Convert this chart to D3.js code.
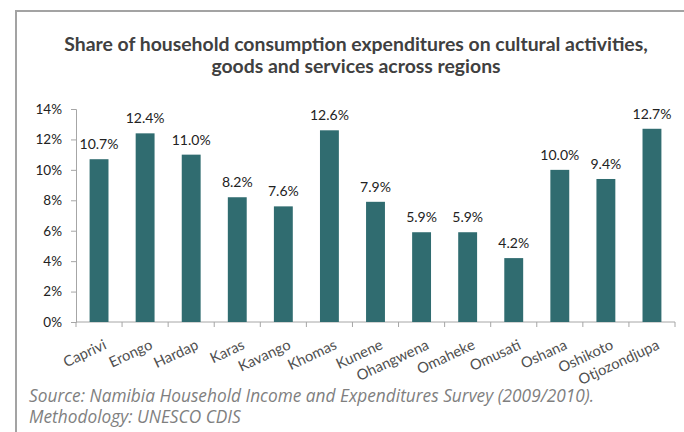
<!DOCTYPE html>
<html>
<head>
<meta charset="utf-8">
<script src="https://cdn.jsdelivr.net/npm/d3@7"></script>
<style>
  body { margin: 0; background: #fff; }
</style>
</head>
<body>
<div id="chart"></div>
<script>
// chart data
var regions = ["Caprivi", "Erongo", "Hardap", "Karas", "Kavango", "Khomas", "Kunene",
  "Ohangwena", "Omaheke", "Omusati", "Oshana", "Oshikoto", "Otjozondjupa"];
var shares = [10.7, 12.4, 11.0, 8.2, 7.6, 12.6, 7.9, 5.9, 5.9, 4.2, 10.0, 9.4, 12.7];
var yTicks = [0, 2, 4, 6, 8, 10, 12, 14];
var titleLines = ["Share of household consumption expenditures on cultural activities,",
  "goods and services across regions"];
var sourceLines = ["Source: Namibia Household Income and Expenditures Survey (2009/2010).",
  "Methodology: UNESCO CDIS"];

var svgWidth = 684;
var svgHeight = 432;

// plot area
var margin = { top: 109, right: 9, bottom: 110, left: 76 };
var width = svgWidth - margin.left - margin.right;
var height = 322 - margin.top;

var svg = d3.select("#chart")
  .append("svg")
  .attr("width", svgWidth)
  .attr("height", svgHeight);

// frame lines (top and left)
svg.append("line")
  .attr("x1", 16).attr("x2", svgWidth).attr("y1", 11).attr("y2", 11)
  .attr("stroke", "#a3a3a3").attr("stroke-width", 2);
svg.append("line")
  .attr("x1", 16).attr("x2", 16).attr("y1", 10).attr("y2", svgHeight)
  .attr("stroke", "#a3a3a3").attr("stroke-width", 2);

// title
svg.append("g").selectAll("text")
  .data(titleLines)
  .enter()
  .append("text")
  .attr("x", 356)
  .attr("y", (d, i) => 51 + i * 22)
  .attr("text-anchor", "middle")
  .attr("font-family", "Lato, sans-serif")
  .attr("font-weight", "bold")
  .attr("font-size", "19.4px")
  .attr("fill", "#404040")
  .text(d => d);

var chartGroup = svg.append("g")
  .attr("transform", `translate(${margin.left}, ${margin.top})`);

var xScale = d3.scaleBand()
  .domain(regions)
  .range([0, width])
  .paddingInner(0.59)
  .paddingOuter(0.295);

var yScale = d3.scaleLinear()
  .domain([0, 14])
  .range([height, 0]);

// y axis
var leftAxis = d3.axisLeft(yScale)
  .tickValues(yTicks)
  .tickSize(5)
  .tickPadding(9)
  .tickFormat(d => d + "%");

var yAxisG = chartGroup.append("g").call(leftAxis);
yAxisG.selectAll("text")
  .attr("font-family", "Lato, sans-serif")
  .attr("font-size", "13.5px")
  .attr("fill", "#222");

// x axis with ticks at category boundaries
var xAxisG = chartGroup.append("g")
  .attr("transform", `translate(0, ${height})`);
xAxisG.append("line")
  .attr("x1", 0).attr("x2", width)
  .attr("stroke", "#a6a6a6");
xAxisG.selectAll("line.tick")
  .data(d3.range(regions.length + 1))
  .enter()
  .append("line")
  .attr("class", "tick")
  .attr("x1", i => i * xScale.step())
  .attr("x2", i => i * xScale.step())
  .attr("y1", 0).attr("y2", 5)
  .attr("stroke", "#a6a6a6");

// category labels, rotated
xAxisG.selectAll("text")
  .data(regions)
  .enter()
  .append("text")
  .attr("transform", d => `translate(${xScale(d) + xScale.bandwidth() / 2 + 4}, 17) rotate(-25)`)
  .attr("text-anchor", "end")
  .attr("dy", "0.7em")
  .attr("font-family", "Lato, sans-serif")
  .attr("font-size", "14.7px")
  .attr("fill", "#505050")
  .text(d => d);

yAxisG.select(".domain").attr("stroke", "#a6a6a6");
yAxisG.selectAll(".tick line").attr("stroke", "#a6a6a6");

// bars
chartGroup.selectAll("rect")
  .data(shares)
  .enter()
  .append("rect")
  .attr("x", (d, i) => xScale(regions[i]))
  .attr("y", d => yScale(d))
  .attr("width", xScale.bandwidth())
  .attr("height", d => height - yScale(d))
  .attr("fill", "#306c70");

// value labels
chartGroup.append("g").selectAll("text")
  .data(shares)
  .enter()
  .append("text")
  .attr("x", (d, i) => xScale(regions[i]) + xScale.bandwidth() / 2)
  .attr("y", d => yScale(d) - 10)
  .attr("text-anchor", "middle")
  .attr("font-family", "Lato, sans-serif")
  .attr("font-size", "14px")
  .attr("fill", "#222")
  .text(d => d.toFixed(1) + "%");

// source note
svg.append("g").selectAll("text")
  .data(sourceLines)
  .enter()
  .append("text")
  .attr("x", 29)
  .attr("y", (d, i) => 402 + i * 21)
  .attr("font-family", "'Open Sans', sans-serif")
  .attr("font-style", "italic")
  .attr("font-size", "17.3px")
  .attr("fill", "#7f7f7f")
  .text(d => d);
</script>
</body>
</html>
